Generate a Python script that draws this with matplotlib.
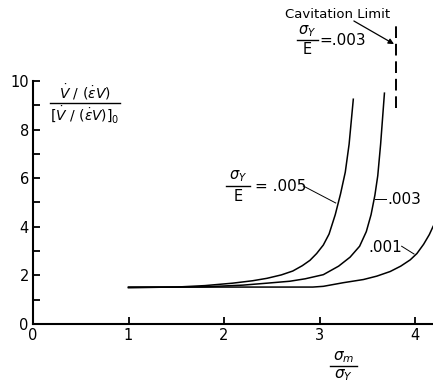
import matplotlib
matplotlib.use('Agg')
import matplotlib.pyplot as plt

plt.rcParams['font.family'] = 'DejaVu Sans'
plt.rcParams['mathtext.fontset'] = 'dejavusans'

# ------------------------------------------------------------
# Data (sigma_m/sigma_Y vs normalized rate)
# ------------------------------------------------------------
x_005 = [1.0, 1.5, 1.8, 2.09, 2.3, 2.45, 2.6, 2.72, 2.82, 2.9, 2.97, 3.04,
         3.10, 3.165, 3.22, 3.27, 3.31, 3.354]
y_005 = [1.5, 1.52, 1.58, 1.68, 1.78, 1.88, 2.02, 2.18, 2.4, 2.62, 2.9, 3.25,
         3.7, 4.5, 5.35, 6.25, 7.4, 9.25]

x_003 = [1.0, 1.8, 2.2, 2.45, 2.69, 2.85, 3.04, 3.2, 3.32, 3.42, 3.49, 3.54,
         3.58, 3.61, 3.64, 3.68]
y_003 = [1.5, 1.53, 1.6, 1.68, 1.76, 1.86, 2.03, 2.38, 2.75, 3.2, 3.8, 4.5,
         5.3, 6.1, 7.4, 9.5]

x_001 = [1.0, 2.93, 3.04, 3.11, 3.25, 3.46, 3.6, 3.74, 3.85, 3.95, 4.02, 4.09,
         4.15, 4.19]
y_001 = [1.52, 1.52, 1.55, 1.6, 1.7, 1.83, 1.97, 2.16, 2.38, 2.64, 2.9, 3.28,
         3.68, 4.02]

cav_x = [3.80, 3.80]
cav_y = [8.9, 12.3]

x_ticks = [0, 1, 2, 3, 4]
y_ticks = [0, 2, 4, 6, 8, 10]
y_minor = [1, 3, 5, 7, 9]

# ------------------------------------------------------------
fig = plt.figure(figsize=(4.33, 3.91), dpi=100)
ax = fig.add_axes([33 / 433, 67 / 391, 400 / 433, 324 / 391])
ax.set_xlim(0, 400 / 95.5)
ax.set_ylim(0, 324 / 24.3)

lw = 1.1
ax.plot(x_005, y_005, color='black', lw=lw, solid_joinstyle='round')
ax.plot(x_003, y_003, color='black', lw=lw, solid_joinstyle='round')
ax.plot(x_001, y_001, color='black', lw=lw, solid_joinstyle='round', clip_on=False)
ax.plot(cav_x, cav_y, color='black', lw=1.4, dashes=(6, 3), clip_on=False)

# axes styling
for s in ['top', 'right']:
    ax.spines[s].set_visible(False)
ax.spines['left'].set_bounds(0, 10)
ax.spines['left'].set_linewidth(1.5)
ax.spines['bottom'].set_linewidth(1.5)
ax.set_xticks(x_ticks)
ax.set_yticks(y_ticks)
ax.set_yticks(y_minor, minor=True)
ax.tick_params(direction='in', length=5, width=1.3, labelsize=10.5, pad=3)
ax.tick_params(axis='y', which='minor', direction='in', length=5, width=1.3)
ax.set_xticklabels([str(v) for v in x_ticks])
ax.set_yticklabels([str(v) for v in y_ticks])


def frac(x, ynum, yden, xb0, xb1, yb, num, den, fs=10):
    ax.text(x, ynum, num, ha='center', va='center', fontsize=fs)
    ax.text(x, yden, den, ha='center', va='center', fontsize=fs)
    ax.plot([xb0, xb1], [yb, yb], color='black', lw=1.0, clip_on=False)


# y-axis label (fraction, inside plot top-left)
frac(0.54, 9.55, 8.6, 0.18, 0.91, 9.09,
     r'$\dot{V}\ /\ (\dot{\epsilon}V)$', r'$[\dot{V}\ /\ (\dot{\epsilon}V)]_0$', fs=10)

# x-axis label
frac(3.25, -1.36, -2.1, 3.11, 3.39, -1.73, r'$\sigma_m$', r'$\sigma_Y$', fs=11)

# cavitation limit annotation
ax.text(3.19, 12.75, 'Cavitation Limit', ha='center', va='center', fontsize=9.5)
frac(2.87, 12.06, 11.28, 2.76, 2.98, 11.69, r'$\sigma_Y$', 'E', fs=10.5)
ax.text(3.0, 11.66, '=.003', ha='left', va='center', fontsize=11)
ax.annotate('', xy=(3.78, 11.52), xytext=(3.36, 12.47),
            arrowprops=dict(arrowstyle='-|>', color='black', lw=0.9,
                            mutation_scale=8, shrinkA=0, shrinkB=0))

# curve labels
frac(2.15, 6.09, 5.23, 2.02, 2.27, 5.68, r'$\sigma_Y$', 'E', fs=10.5)
ax.text(2.32, 5.64, '= .005', ha='left', va='center', fontsize=11)
ax.plot([2.83, 3.17], [5.68, 4.98], color='black', lw=0.7)

ax.text(3.71, 5.12, '.003', ha='left', va='center', fontsize=11)
ax.plot([3.58, 3.70], [5.14, 5.14], color='black', lw=0.7)

ax.text(3.69, 3.13, '.001', ha='center', va='center', fontsize=11)
ax.plot([3.86, 3.99], [3.2, 2.88], color='black', lw=0.7)

fig.savefig('out.png', dpi=100)
